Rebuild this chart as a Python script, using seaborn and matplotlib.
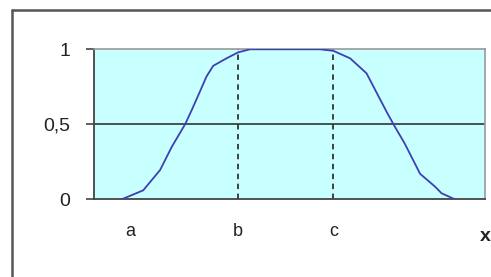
import pandas as pd
import matplotlib.pyplot as plt
import matplotlib.lines as mlines
import seaborn as sns

# Curve (x on a 0-100 scale)
x_vals = [7.1, 12.6, 16.9, 19.9, 23.3, 25.0, 26.7, 28.8, 30.5, 33.9, 36.9, 39.9,
          57.8, 61.2, 65.5, 69.7, 71.9, 74.9, 76.6, 79.5, 83.4, 87.2, 88.9, 92.3]
mu_vals = [0.0, 0.06, 0.195, 0.35, 0.5, 0.595, 0.695, 0.82, 0.89, 0.94, 0.98, 1.0,
           1.0, 0.99, 0.94, 0.84, 0.73, 0.58, 0.5, 0.37, 0.17, 0.085, 0.04, 0.0]

# Points b and c (dashed lines) and the x tick labels
b_pos = 36.9
c_pos = 61.2
tick_pos = [9.2, 36.9, 61.2]
tick_labels = ['a', 'b', 'c']
y_ticks = [0, 0.5, 1]
y_labels = ['0', '0,5', '1']

df = pd.DataFrame({'x': x_vals, 'mu': mu_vals})

sns.set_style('white')
plt.rcParams['font.family'] = ['Liberation Sans', 'DejaVu Sans']

fig = plt.figure(figsize=(4.91, 2.77), dpi=100)
ax = fig.add_axes([0.1914, 0.2805, 0.7964, 0.5415])
ax.set_facecolor('#c8ffff')

# Outer frame (only left and top edges are visible)
fig.add_artist(mlines.Line2D([0.0244, 0.0244], [0, 0.964], color='#555555', lw=1.8))
fig.add_artist(mlines.Line2D([0.0244, 1.0], [0.964, 0.964], color='#555555', lw=1.8))

# Grid line at 0.5
ax.axhline(0.5, color='#333333', lw=1.2, zorder=1)

# Dashed lines at b and c
ax.plot([b_pos, b_pos], [0, 1], color='#333333', lw=1.3, ls=(0, (3, 2.5)), zorder=2)
ax.plot([c_pos, c_pos], [0, 1], color='#333333', lw=1.3, ls=(0, (3, 2.5)), zorder=2)

sns.lineplot(data=df, x='x', y='mu', ax=ax, color='#3f3fb5', lw=1.3, sort=False, zorder=3)

ax.set_xlim(0, 100)
ax.set_ylim(0, 1)
ax.set_xlabel('')
ax.set_ylabel('')

ax.set_yticks(y_ticks)
ax.set_yticklabels(y_labels, fontsize=14, color='#222222')
ax.set_xticks(tick_pos)
ax.set_xticklabels(tick_labels, fontsize=13, color='#222222')
ax.tick_params(axis='y', length=6, width=1.2, color='#444444', pad=11, left=True)
ax.tick_params(axis='x', length=0, pad=17)

for side in ['left', 'bottom']:
    ax.spines[side].set_color('#444444')
    ax.spines[side].set_linewidth(1.3)
for side in ['top', 'right']:
    ax.spines[side].set_color('#9a9a9a')
    ax.spines[side].set_linewidth(1.2)
    ax.spines[side].set_visible(True)

fig.text(0.988, 0.145, 'x', fontsize=14, fontweight='bold', color='#222222',
         ha='center', va='center')

fig.savefig('out.png', dpi=100)
